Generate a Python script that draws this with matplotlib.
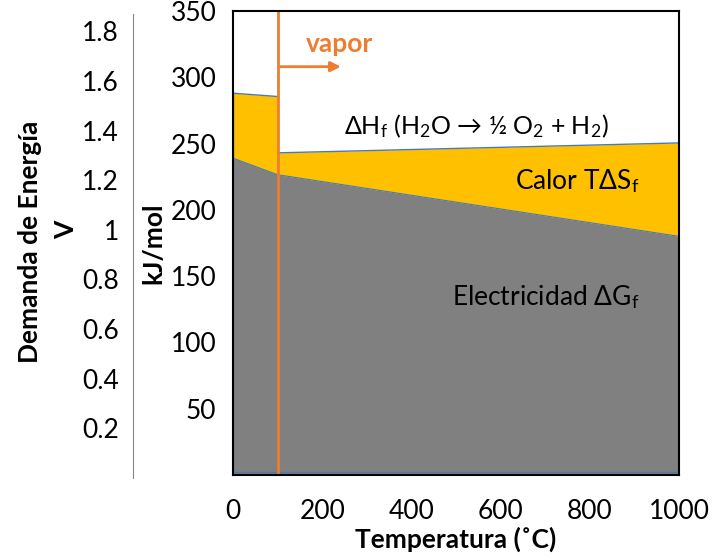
import matplotlib
matplotlib.use("Agg")
import matplotlib.pyplot as plt

# Liquid water region (0-100 C) and vapour region (100-1000 C), kJ/mol
temp_liq = [0, 100]
dh_liq = [288, 285.5]
dg_liq = [239, 226.5]

temp_gas = [100, 1000]
dh_gas = [243, 250.5]
dg_gas = [226.5, 180]

x_ticks = [0, 200, 400, 600, 800, 1000]
y_ticks = [50, 100, 150, 200, 250, 300, 350]
v_ticks = [0.2, 0.4, 0.6, 0.8, 1.0, 1.2, 1.4, 1.6, 1.8]
v_labels = ["0.2", "0.4", "0.6", "0.8", "1", "1.2", "1.4", "1.6", "1.8"]

plt.rcParams["font.family"] = ["Lato", "DejaVu Sans"]
plt.rcParams["mathtext.fontset"] = "custom"
plt.rcParams["mathtext.rm"] = "Lato"
plt.rcParams["mathtext.it"] = "Lato:italic"
plt.rcParams["mathtext.bf"] = "Lato:bold"

YELLOW = "#FFC000"
GRAY = "#808080"
EDGE = "#4a7ab0"
ORANGE = "#ED7D31"
FS = 19

fig = plt.figure(figsize=(7.19, 5.6), dpi=100)
ax = fig.add_axes([233 / 719, 1 - 475 / 560, 446 / 719, 464 / 560])

for t, dh, dg in [(temp_liq, dh_liq, dg_liq), (temp_gas, dh_gas, dg_gas)]:
    ax.fill_between(t, dg, dh, color=YELLOW, lw=0)
    ax.fill_between(t, 0, dg, color=GRAY, lw=0)
    ax.plot(t, dh, color=EDGE, lw=1)
    ax.plot(t, dg, color=EDGE, lw=0.8)
ax.plot([0, 1000], [2, 2], color=EDGE, lw=1)
ax.plot([0, 0], [0, dh_liq[0]], color=EDGE, lw=1)

ax.axvline(100, color=ORANGE, lw=2)
ax.annotate("", xy=(248, 308), xytext=(100, 308),
            arrowprops=dict(arrowstyle="-|>", color=ORANGE, lw=2, mutation_scale=15))
ax.text(164, 325, "vapor", color=ORANGE, fontsize=FS, fontweight="bold", va="center")

ax.text(545, 263, r"ΔH$_\mathrm{f}$ (H$_2$O → ½ O$_2$ + H$_2$)", fontsize=18,
        ha="center", va="center")
ax.text(912, 222, r"Calor TΔS$_\mathrm{f}$", fontsize=FS, ha="right", va="center")
ax.text(912, 134, r"Electricidad ΔG$_\mathrm{f}$", fontsize=FS, ha="right", va="center")

ax.set_xlim(0, 1000)
ax.set_ylim(0, 350)
ax.set_xticks(x_ticks)
ax.set_yticks(y_ticks)
ax.tick_params(length=0, labelsize=FS)
ax.tick_params(axis="x", pad=17)
ax.tick_params(axis="y", pad=12)
for s in ax.spines.values():
    s.set_linewidth(1.5)
ax.set_xlabel("Temperatura (˚C)", fontsize=FS, fontweight="bold", labelpad=2)
ax.set_ylabel("kJ/mol", fontsize=FS, fontweight="bold", labelpad=4)

# secondary voltage scale on the left
vax = fig.add_axes([133 / 719, 1 - 478 / 560, 0.0001, 464 / 560])
vax.set_ylim(0, 1.87)
vax.set_yticks(v_ticks)
vax.set_yticklabels(v_labels)
vax.set_xticks([])
for k in ["top", "right", "bottom"]:
    vax.spines[k].set_visible(False)
vax.spines["left"].set_color("#888888")
vax.tick_params(length=0, labelsize=FS, pad=10)

fig.text(30 / 719, 1 - 242 / 560, "Demanda de Energía", rotation=90, fontsize=FS,
         fontweight="bold", ha="center", va="center")
fig.text(66 / 719, 1 - 230 / 560, "V", rotation=90, fontsize=FS,
         fontweight="bold", ha="center", va="center")

fig.savefig("out.png", dpi=100)
